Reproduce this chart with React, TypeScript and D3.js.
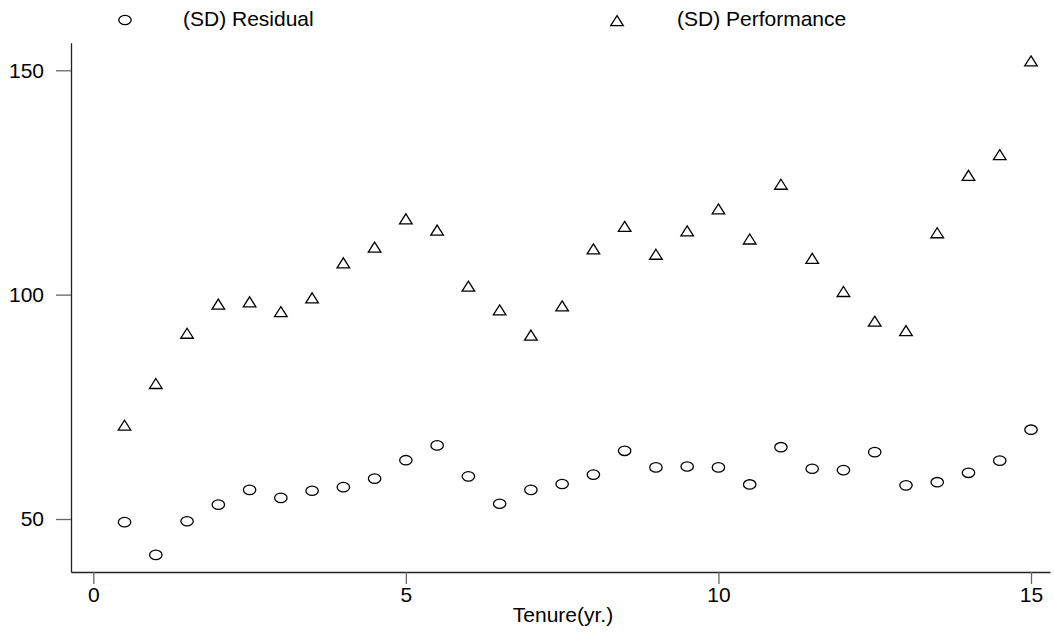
import * as React from 'react';
import * as d3 from 'd3';

// tenure (years), one point every half year
const tenure: number[] = [
  0.5, 1, 1.5, 2, 2.5, 3, 3.5, 4, 4.5, 5, 5.5, 6, 6.5, 7, 7.5,
  8, 8.5, 9, 9.5, 10, 10.5, 11, 11.5, 12, 12.5, 13, 13.5, 14, 14.5, 15,
];

const residualSD: number[] = [
  49.3, 42.0, 49.5, 53.2, 56.5, 54.7, 56.3, 57.1, 59.0, 63.1, 66.4, 59.5, 53.4, 56.5, 57.8,
  59.9, 65.2, 61.5, 61.7, 61.5, 57.7, 66.0, 61.2, 60.9, 64.9, 57.5, 58.2, 60.3, 63.0, 69.9,
];

const performanceSD: number[] = [
  70.9, 80.2, 91.4, 97.9, 98.4, 96.2, 99.3, 107.1, 110.6, 116.9, 114.4, 101.9, 96.6, 91.0, 97.5,
  110.2, 115.2, 109.0, 114.2, 119.1, 112.4, 124.6, 108.1, 100.7, 94.1, 92.0, 113.8, 126.6, 131.2, 152.1,
];

const xTicks: number[] = [0, 5, 10, 15];
const yTicks: number[] = [50, 100, 150];
const seriesNames: string[] = ['(SD) Residual', '(SD) Performance'];

const W = 1054;
const H = 634;
const FONT = 'Liberation Sans, Arial, Helvetica, sans-serif';

function trianglePath(cx: number, cy: number) {
  return `M${cx},${cy - 5}L${cx + 6.3},${cy + 5}L${cx - 6.3},${cy + 5}Z`;
}

export default function App() {
  const svgRef = React.useRef<SVGSVGElement>(null);

  React.useEffect(() => {
    const svg = d3.select(svgRef.current);
    svg.selectAll('*').remove();

    const x = d3.scaleLinear().domain([0, 15]).range([93.3, 1031]);
    const y = d3.scaleLinear().domain([50, 150]).range([519, 70.3]);

    const left = 71, bottom = 572, top = 42.7, right = 1050;
    const xAxisScale = d3.scaleLinear().domain([x.invert(left), x.invert(right)]).range([left, right]);
    const yAxisScale = d3.scaleLinear().domain([y.invert(bottom), y.invert(top)]).range([bottom, top]);

    // y axis
    const gy = svg.append('g')
      .attr('transform', `translate(${left},0)`)
      .call(d3.axisLeft(yAxisScale).tickValues(yTicks).tickSize(15).tickSizeOuter(0).tickPadding(12)
        .tickFormat(d => `${d}`));
    gy.select('.domain').attr('stroke', '#222').attr('stroke-width', 1.3);
    gy.selectAll('.tick line').attr('stroke', '#666').attr('stroke-width', 1.3);
    gy.selectAll('.tick text').attr('font-size', 21).attr('font-family', FONT).attr('fill', '#000');

    // x axis
    const gx = svg.append('g')
      .attr('transform', `translate(0,${bottom})`)
      .call(d3.axisBottom(xAxisScale).tickValues(xTicks).tickSize(12).tickSizeOuter(0).tickPadding(3)
        .tickFormat(d => `${d}`));
    gx.select('.domain').attr('stroke', '#222').attr('stroke-width', 1.3);
    gx.selectAll('.tick line').attr('stroke', '#666').attr('stroke-width', 1.3);
    gx.selectAll('.tick text').attr('font-size', 21).attr('font-family', FONT).attr('fill', '#000');

    svg.append('text')
      .attr('x', 563)
      .attr('y', 622)
      .attr('text-anchor', 'middle')
      .attr('font-size', 21)
      .attr('font-family', FONT)
      .text('Tenure(yr.)');

    // residual circles
    svg.append('g').selectAll('ellipse')
      .data(residualSD)
      .enter()
      .append('ellipse')
      .attr('cx', (_d, i) => x(tenure[i]))
      .attr('cy', d => y(d))
      .attr('rx', 6.2)
      .attr('ry', 4.7)
      .attr('fill', 'none')
      .attr('stroke', '#000')
      .attr('stroke-width', 1.3);

    // performance triangles
    svg.append('g').selectAll('path')
      .data(performanceSD)
      .enter()
      .append('path')
      .attr('d', (d, i) => trianglePath(x(tenure[i]), y(d)))
      .attr('fill', 'none')
      .attr('stroke', '#000')
      .attr('stroke-width', 1.3)
      .attr('stroke-linejoin', 'miter');

    // legend
    const legend = svg.append('g');
    legend.append('ellipse')
      .attr('cx', 125).attr('cy', 20).attr('rx', 6.2).attr('ry', 4.7)
      .attr('fill', 'none').attr('stroke', '#000').attr('stroke-width', 1.3);
    legend.append('text')
      .attr('x', 183).attr('y', 26)
      .attr('font-size', 21).attr('font-family', FONT)
      .text(seriesNames[0]);
    legend.append('path')
      .attr('d', trianglePath(617, 20.7))
      .attr('fill', 'none').attr('stroke', '#000').attr('stroke-width', 1.3);
    legend.append('text')
      .attr('x', 677).attr('y', 26)
      .attr('font-size', 21).attr('font-family', FONT)
      .text(seriesNames[1]);
  }, []);

  return (
    <svg
      ref={svgRef}
      width={W}
      height={H}
      style={{ position: 'absolute', left: 0, top: 0, background: '#fff' }}
    />
  );
}
